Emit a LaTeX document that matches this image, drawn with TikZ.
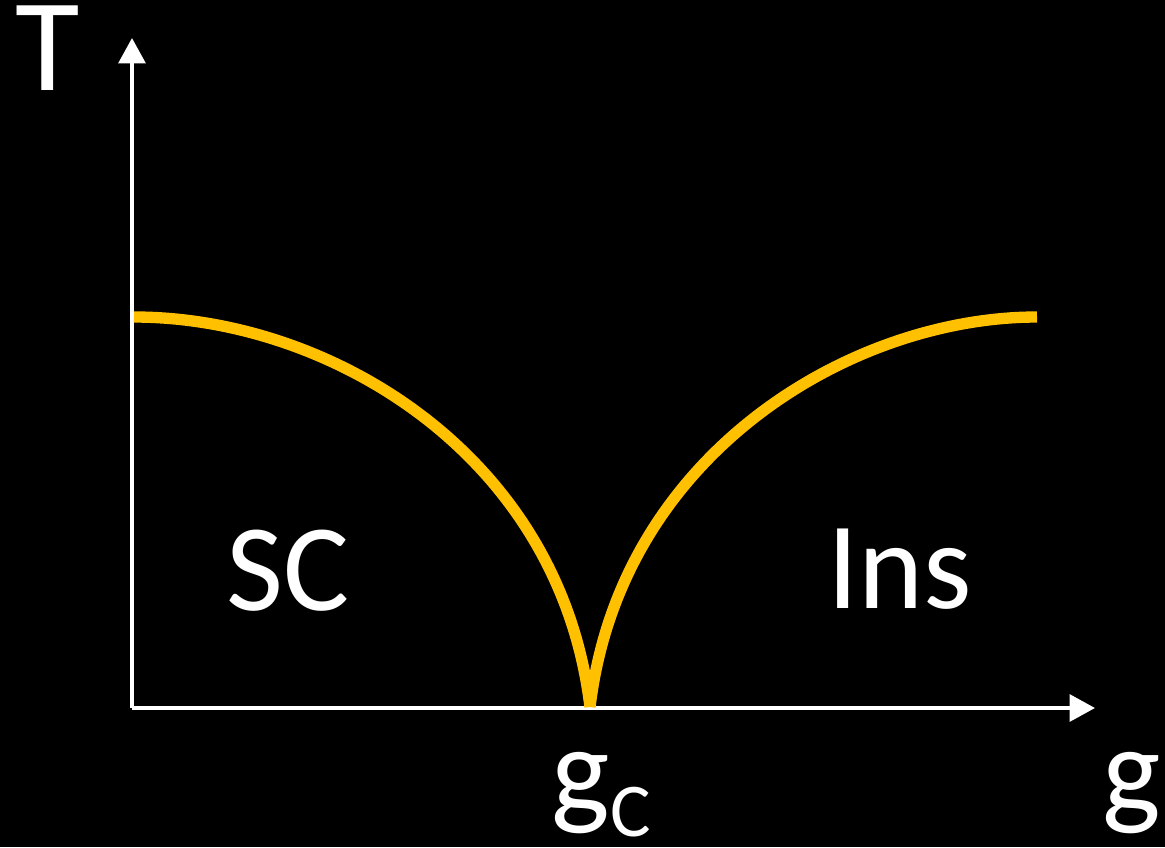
\documentclass[tikz,border=0pt]{standalone}
\usepackage{fontspec}
\setmainfont{Carlito}
\usetikzlibrary{arrows.meta}
\definecolor{curveor}{HTML}{FFC000}
\begin{document}
\begin{tikzpicture}[x=0.75pt,y=-0.75pt,
  axisline/.style={draw=white,line width=3pt,-{Triangle[length=19pt,width=20pt]}},
  phase/.style={draw=curveor,line width=8.5pt},
  lbl/.style={text=white,font=\fontsize{93}{100}\selectfont,inner sep=0pt,anchor=base}]
\fill[black] (0,0) rectangle (1165,847);
\useasboundingbox (0,0) rectangle (1165,847);
\coordinate (O) at (132,708);
\coordinate (Ytip) at (132,38);
\coordinate (Xtip) at (1095,708);
\coordinate (L) at (134,317);
\coordinate (C) at (590,707);
\coordinate (R) at (1037,317);
\draw[axisline] (O) -- (Ytip);
\draw[axisline] (O) -- (Xtip);
\draw[phase] (L) .. controls (330,317) and (560,455) .. (C);
\draw[phase] (C) .. controls (620,455) and (850,317) .. (R);
\node[lbl,font=\fontsize{99}{100}\selectfont] (T) at (48,90) {T};
\node[lbl] (SC) at (288,610) {SC};
\node[lbl] (Ins) at (900,608) {Ins};
\node[lbl,anchor=base west] (gc) at (551,812) {g\kern1pt\raisebox{-18pt}{\fontsize{57}{60}\selectfont C}};
\node[lbl] (g) at (1132,812) {g};
\end{tikzpicture}
\end{document}
